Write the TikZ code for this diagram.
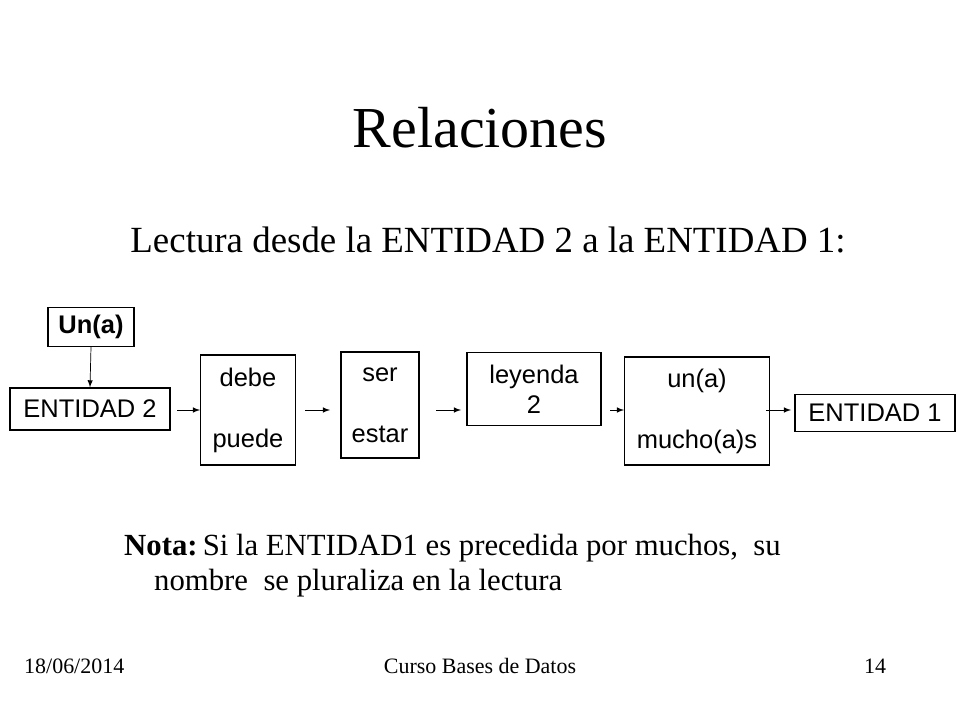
\documentclass[tikz,border=0pt]{standalone}
\usepackage{fontspec}
\setmainfont{Liberation Serif}
\setsansfont{Liberation Sans}
\begin{document}
\begin{tikzpicture}
  [x=0.02cm, y=-0.02cm, >=latex,
   box/.style={draw, thick, font=\sffamily\fontsize{14.5}{17}\selectfont, inner sep=0pt, align=center},
   link/.style={->, thin},
   foot/.style={anchor=base, font=\fontsize{12.5}{14}\selectfont}]
  \useasboundingbox (0,0) rectangle (960,720);
  % titles
  \node (title) at (480,128) {\fontsize{33}{38}\selectfont Relaciones};
  \node (sub) at (488,240) {\fontsize{21}{25}\selectfont Lectura desde la ENTIDAD 2 a la ENTIDAD 1:};
  % boxes
  \node[box, font=\sffamily\bfseries\fontsize{14.5}{17}\selectfont, minimum width=86*0.02cm, minimum height=39*0.02cm] (una) at (91,327) {Un(a)};
  \node[box, minimum width=160*0.02cm, minimum height=42*0.02cm] (ent2) at (90,409) {ENTIDAD 2};
  \node[box, minimum width=95*0.02cm, minimum height=110*0.02cm] (debe) at (248,410) {debe\\[0.62cm]puede};
  \node[box, minimum width=78*0.02cm, minimum height=106*0.02cm] (ser) at (380,405) {ser\\[0.62cm]estar};
  \node[box, minimum width=134*0.02cm, minimum height=73*0.02cm] (ley) at (534,389) {leyenda\\2};
  \node[box, minimum width=145*0.02cm, minimum height=108*0.02cm] (mucho) at (697,411) {un(a)\\[0.62cm]mucho(a)s};
  \node[box, minimum width=160*0.02cm, minimum height=37*0.02cm] (ent1) at (875,413) {ENTIDAD 1};
  % arrow ends
  \coordinate (a1) at (177,410); \coordinate (b1) at (200,410);
  \coordinate (a2) at (305,410); \coordinate (b2) at (330,410);
  \coordinate (a3) at (436,410); \coordinate (b3) at (461,410);
  \coordinate (a4) at (610,410); \coordinate (b4) at (624,410);
  \coordinate (a5) at (766,410); \coordinate (b5) at (791,410);
  \draw[link] (una.south) -- (ent2.north);
  \foreach \i in {1,...,5}
    \draw[link] (a\i) -- (b\i);
  % note
  \node[anchor=west] (nota1) at (118,548) {\fontsize{17.5}{21}\selectfont\textbf{Nota:}\,Si la ENTIDAD1 es precedida por muchos,\ \ su};
  \node[anchor=west] (nota2) at (148,583) {\fontsize{17.5}{21}\selectfont nombre\ \ se pluraliza en la lectura};
  % footer
  \node[foot, anchor=base west] (fecha) at (18,673) {18/06/2014};
  \node[foot] (curso) at (480,673) {Curso Bases de Datos};
  \node[foot] (pag) at (875,673) {14};
\end{tikzpicture}
\end{document}
